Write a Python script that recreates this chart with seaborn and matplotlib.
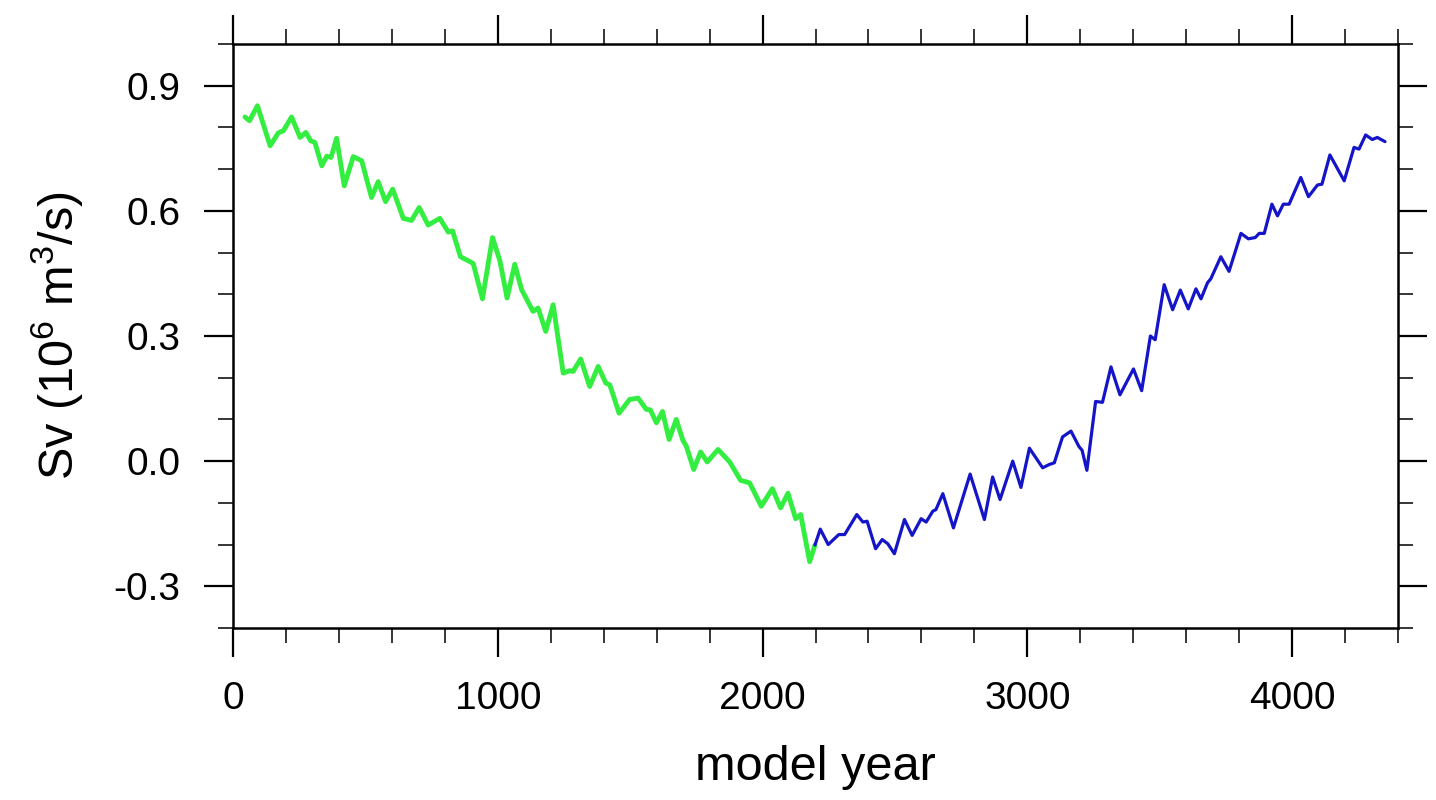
import numpy as np
import pandas as pd
import matplotlib
matplotlib.use("Agg")
import matplotlib.pyplot as plt
import seaborn as sns
from matplotlib.ticker import MultipleLocator

# ---- data ----
green_year = [45, 62, 92, 140, 171, 190, 221, 253, 275, 293, 309, 335, 354, 370, 391, 420,
              454, 486, 523, 548, 576, 603, 643, 674, 703, 737, 781, 813, 829, 859, 907, 942,
              980, 1008, 1035, 1064, 1090, 1133, 1152, 1181, 1209, 1247, 1272, 1284, 1313,
              1347, 1379, 1408, 1423, 1458, 1498, 1530, 1561, 1576, 1599, 1622, 1647, 1674,
              1699, 1712, 1740, 1766, 1791, 1832, 1876, 1917, 1951, 1995, 2037, 2068, 2096,
              2125, 2144, 2178, 2198]
green_sv = [0.825, 0.816, 0.852, 0.756, 0.787, 0.792, 0.825, 0.776, 0.788, 0.768, 0.764,
            0.708, 0.731, 0.728, 0.774, 0.660, 0.730, 0.720, 0.632, 0.670, 0.622, 0.652,
            0.582, 0.577, 0.608, 0.566, 0.582, 0.549, 0.552, 0.490, 0.474, 0.389, 0.536,
            0.480, 0.391, 0.472, 0.411, 0.359, 0.367, 0.311, 0.375, 0.211, 0.217, 0.215,
            0.245, 0.179, 0.227, 0.187, 0.183, 0.115, 0.148, 0.151, 0.124, 0.123, 0.092,
            0.119, 0.052, 0.100, 0.050, 0.036, -0.020, 0.022, -0.002, 0.028, -0.002, -0.046,
            -0.052, -0.108, -0.066, -0.112, -0.077, -0.138, -0.128, -0.241, -0.201]

blue_year = [2198, 2218, 2248, 2288, 2310, 2356, 2379, 2395, 2427, 2452, 2473, 2498, 2536,
             2565, 2599, 2618, 2643, 2655, 2681, 2721, 2784, 2838, 2869, 2897, 2945, 2976,
             3008, 3058, 3083, 3102, 3133, 3165, 3195, 3207, 3225, 3258, 3284, 3316, 3350,
             3401, 3432, 3465, 3483, 3517, 3549, 3578, 3608, 3637, 3656, 3681, 3693, 3731,
             3762, 3807, 3835, 3861, 3876, 3895, 3924, 3945, 3967, 3989, 4033, 4062, 4096,
             4113, 4143, 4197, 4234, 4253, 4278, 4303, 4322, 4351]
blue_sv = [-0.201, -0.163, -0.200, -0.176, -0.176, -0.128, -0.146, -0.144, -0.210, -0.188,
           -0.198, -0.222, -0.140, -0.178, -0.138, -0.146, -0.120, -0.116, -0.078, -0.160,
           -0.031, -0.140, -0.038, -0.092, 0.000, -0.063, 0.031, -0.016, -0.008, -0.004,
           0.058, 0.072, 0.035, 0.026, -0.022, 0.143, 0.141, 0.226, 0.159, 0.221, 0.169,
           0.300, 0.291, 0.423, 0.363, 0.410, 0.365, 0.413, 0.389, 0.428, 0.437, 0.490,
           0.455, 0.546, 0.533, 0.536, 0.546, 0.546, 0.616, 0.588, 0.616, 0.616, 0.680,
           0.634, 0.662, 0.664, 0.734, 0.672, 0.752, 0.748, 0.782, 0.771, 0.776, 0.766]

x_ticks = [0, 1000, 2000, 3000, 4000]
y_ticks = [-0.3, 0.0, 0.3, 0.6, 0.9]
y_ticklabels = ["-0.3", "0.0", "0.3", "0.6", "0.9"]

# ---- style ----
sns.set_style("ticks")
plt.rcParams["font.family"] = ["Liberation Sans", "DejaVu Sans"]
plt.rcParams["mathtext.fontset"] = "custom"
plt.rcParams["mathtext.rm"] = "Liberation Sans"
plt.rcParams["mathtext.it"] = "Liberation Sans"
plt.rcParams["text.color"] = "black"
plt.rcParams["axes.labelcolor"] = "black"
plt.rcParams["xtick.color"] = "black"
plt.rcParams["ytick.color"] = "black"

fig = plt.figure(figsize=(14.36, 8.0), dpi=100)
ax = fig.add_axes([0.1623, 0.215, 0.9735 - 0.1623, 0.945 - 0.215])

gdf = pd.DataFrame({"year": green_year, "sv": green_sv})
bdf = pd.DataFrame({"year": blue_year, "sv": blue_sv})
sns.lineplot(data=gdf, x="year", y="sv", ax=ax, color="#33ee40", linewidth=3.5,
             sort=False, estimator=None, solid_joinstyle="round", solid_capstyle="round")
sns.lineplot(data=bdf, x="year", y="sv", ax=ax, color="#1414c8", linewidth=2.3,
             sort=False, estimator=None, solid_joinstyle="round", solid_capstyle="round")

ax.set_xlim(0, 4400)
ax.set_ylim(-0.4, 1.0)
ax.set_xticks(x_ticks)
ax.set_xticklabels([str(v) for v in x_ticks])
ax.set_yticks(y_ticks)
ax.set_yticklabels(y_ticklabels)
ax.xaxis.set_minor_locator(MultipleLocator(200))
ax.yaxis.set_minor_locator(MultipleLocator(0.1))

for s in ax.spines.values():
    s.set_visible(True)
    s.set_linewidth(1.8)
    s.set_color("black")

ax.tick_params(which="major", direction="out", length=21, width=1.6, color="black",
               labelcolor="black", labelsize=28, pad=17, top=True, right=True,
               labeltop=False, labelright=False)
ax.tick_params(which="minor", direction="out", length=10.5, width=1.1, color="black",
               top=True, right=True)

ax.set_xlabel("model year", fontsize=35, color="black")
ax.set_ylabel("Sv (10$^6$ m$^3$/s)", fontsize=35, color="black")
ax.xaxis.set_label_coords(0.5, -0.2)
ax.yaxis.set_label_coords(-0.127, 0.5)

fig.savefig("out.png", dpi=100, facecolor="white")
